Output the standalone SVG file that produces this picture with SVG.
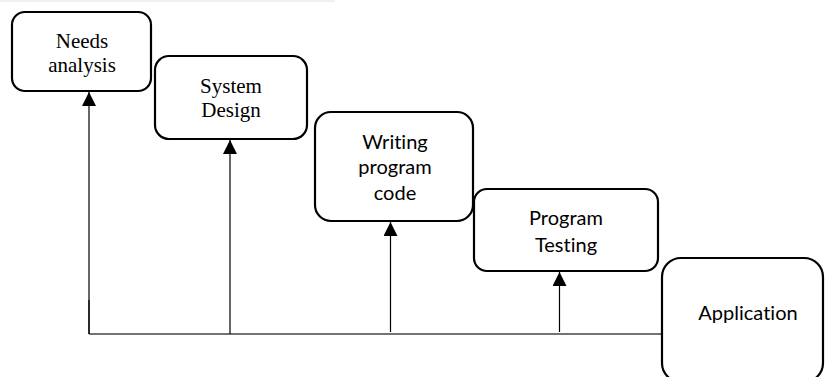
<svg xmlns="http://www.w3.org/2000/svg" width="825" height="377" viewBox="0 0 825 377">
  <style>
    .box { fill: #ffffff; stroke: #000000; stroke-width: 2.2; }
    .serif { font-family: "Liberation Serif", "Times New Roman", serif; font-size: 21px; fill: #000000; text-anchor: middle; }
    .sans { font-family: Lato, "Liberation Sans", Arial, sans-serif; font-size: 20px; fill: #000000; text-anchor: middle; font-variant-ligatures: none; }
    .bus { stroke: #444444; stroke-width: 1.6; fill: none; }
    .feed { stroke: #000000; stroke-width: 1.2; fill: none; }
  </style>
  <defs>
    <marker id="arrow" viewBox="0 0 14 14" refX="14" refY="7" markerWidth="14" markerHeight="14" markerUnits="userSpaceOnUse" orient="auto">
      <path d="M0,0 L14,7 L0,14 Z" fill="#000000"/>
    </marker>
  </defs>

  <rect x="0" y="0" width="335" height="2" fill="#f0f0f0"/>

  <g id="connectors">
    <polyline class="bus" points="89,334 662,334"/>
    <line class="bus" x1="89" y1="334" x2="89" y2="300"/>
    <line class="feed" x1="89" y1="334" x2="89" y2="92" marker-end="url(#arrow)"/>
    <line class="feed" x1="230" y1="334" x2="230" y2="140" marker-end="url(#arrow)"/>
    <line class="feed" x1="390.5" y1="332" x2="390.5" y2="222" marker-end="url(#arrow)"/>
    <line class="feed" x1="559.5" y1="332" x2="559.5" y2="272" marker-end="url(#arrow)"/>
  </g>

  <g id="needs-analysis">
    <rect class="box" x="12" y="12" width="139" height="79" rx="13"/>
    <text class="serif" x="82" y="48">Needs</text>
    <text class="serif" x="82" y="72">analysis</text>
  </g>

  <g id="system-design">
    <rect class="box" x="155" y="56" width="152" height="83" rx="14"/>
    <text class="serif" x="231" y="93">System</text>
    <text class="serif" x="231" y="117">Design</text>
  </g>

  <g id="writing-program-code">
    <rect class="box" x="315" y="112" width="158" height="109" rx="16"/>
    <text class="sans" x="395" y="149">Writing</text>
    <text class="sans" x="395" y="174">program</text>
    <text class="sans" x="395" y="200">code</text>
  </g>

  <g id="program-testing">
    <rect class="box" x="474" y="189" width="184" height="82" rx="13"/>
    <text class="sans" x="566" y="225">Program</text>
    <text class="sans" x="566" y="252">Testing</text>
  </g>

  <g id="application">
    <rect class="box" x="662" y="258" width="161" height="124" rx="19"/>
    <text class="sans" x="748" y="320">Application</text>
  </g>
</svg>
